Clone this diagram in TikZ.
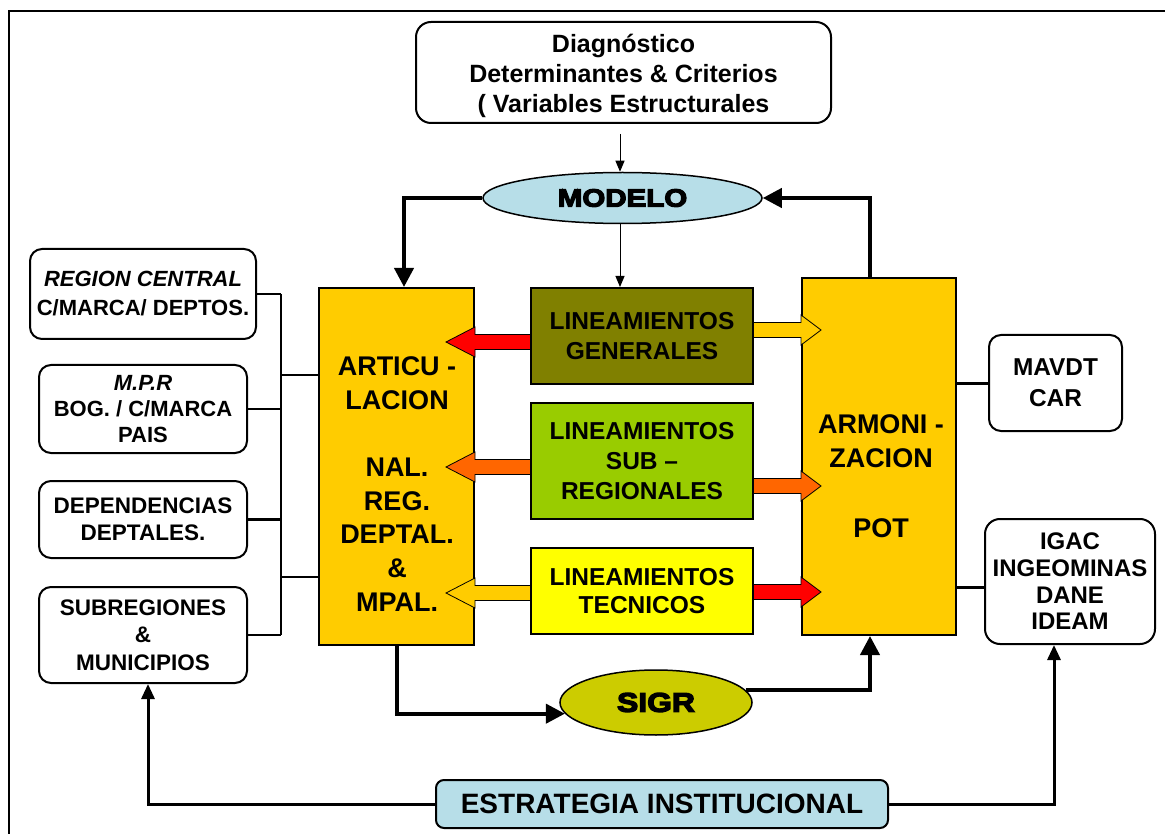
\documentclass[tikz,border=0pt]{standalone}
\usepackage{fontspec}
\setmainfont{Liberation Sans}
\newfontfamily\heavyfont[FakeBold=5,FakeStretch=1.18]{Liberation Sans}
\usetikzlibrary{shapes.geometric,arrows.meta,calc}
\definecolor{gold}{HTML}{FFCC00}
\definecolor{olivebox}{HTML}{808000}
\definecolor{greenbox}{HTML}{99CC00}
\definecolor{yellowbox}{HTML}{FFFF00}
\definecolor{lightblue}{HTML}{B7DEE8}
\definecolor{sigrfill}{HTML}{CCCC00}
\definecolor{orangearrow}{HTML}{FF6600}
\definecolor{redarrow}{HTML}{FF0000}
\newcommand{\fs}[2]{\fontsize{#1}{#2}\selectfont\bfseries}
\newcommand{\blkarrow}[5]{%
 \pgfmathsetmacro\ya{#4-7.5}\pgfmathsetmacro\yb{#4+7.5}%
 \pgfmathsetmacro\yc{#4-15}\pgfmathsetmacro\yd{#4+15}%
 \coordinate (bkS) at (#2);
 \coordinate (bkT) at (#3);
 \filldraw[fill=#1,draw=black,line width=0.8pt]
 (bkS |- 0,\ya) -- (bkT |- 0,\ya) -- (bkT |- 0,\yc) -- ($(bkT |- 0,#4)+(#5,0)$)
 -- (bkT |- 0,\yd) -- (bkT |- 0,\yb) -- (bkS |- 0,\yb) -- cycle;}
\tikzset{
 rbox/.style={draw,line width=2pt,rounded corners=12pt,fill=white,inner sep=0pt,align=center},
 sqbox/.style={draw,line width=2pt,inner sep=0pt,align=center},
 oval/.style={ellipse,draw,line width=1.5pt,inner sep=0pt},
 thinarrow/.style={line width=1pt,-{Triangle[length=11pt,width=9pt]}},
 thickarrow/.style={line width=4pt,-{Triangle[length=19pt,width=19pt]}},
 midarrow/.style={line width=3pt,-{Triangle[length=15pt,width=13pt]}},
 bus/.style={line width=2.5pt},
 conn/.style={line width=3pt}
}
\begin{document}
\begin{tikzpicture}[x=1pt,y=-1pt]
\useasboundingbox (0,0) rectangle (1165,834);
\fill[white] (0,0) rectangle (1165,834);
% frame
\draw[line width=2pt] (9,834) -- (9,11) -- (1165,11);

% top
\node[rbox,rounded corners=15pt,minimum width=415,minimum height=101] (diag) at (623.5,72.5) {};
\node[font=\fs{25}{30},align=center,inner sep=0pt] (diagT) at (623.5,75.5)
 {Diagnóstico\\Determinantes \& Criterios\\( Variables Estructurales};
\node[oval,fill=lightblue,minimum width=279,minimum height=51] (modelo) at (622.5,198)
 {\heavyfont\fontsize{25}{28}\selectfont\bfseries MODELO};

% main columns
\node[sqbox,fill=gold,minimum width=155,minimum height=357] (artic) at (396.5,466.5) {};
\node[font=\fs{27}{33.7},align=center] (articT) at (397,484)
 {ARTICU -\\LACION\\[33.7pt]NAL.\\REG.\\DEPTAL.\\\&\\MPAL.};
\node[sqbox,fill=gold,minimum width=154,minimum height=357] (armon) at (879,456.5) {};
\node[font=\fs{27}{34.7},align=center] (armonT) at (881,476)
 {ARMONI -\\ZACION\\[34.7pt]POT};

% block arrows
\blkarrow{redarrow}{531,0}{artic.east}{342}{-29}
\blkarrow{orangearrow}{531,0}{artic.east}{467}{-29}
\blkarrow{gold}{531,0}{artic.east}{593}{-29}
\blkarrow{gold}{753,0}{armon.west}{330}{20}
\blkarrow{orangearrow}{753,0}{armon.west}{486}{20}
\blkarrow{redarrow}{753,0}{armon.west}{592}{20}

\node[sqbox,fill=olivebox,minimum width=222,minimum height=96,font=\fs{24.5}{30}] (gen) at (642,336)
 {LINEAMIENTOS\\GENERALES};
\node[sqbox,fill=greenbox,minimum width=222,minimum height=116,font=\fs{24.5}{30}] (sub) at (642,461)
 {LINEAMIENTOS\\SUB –\\REGIONALES};
\node[sqbox,fill=yellowbox,minimum width=222,minimum height=86,font=\fs{24.5}{28}] (tec) at (642,591)
 {LINEAMIENTOS\\TECNICOS};

% left boxes
\node[rbox,minimum width=226,minimum height=90,font=\fs{22}{29}] (b1) at (143,294)
 {\itshape REGION CENTRAL\\C/MARCA/ DEPTOS.};
\node[rbox,minimum width=208,minimum height=88,font=\fs{22}{26}] (b2) at (143,409)
 {\itshape M.P.R\\BOG. / C/MARCA\\PAIS};
\node[rbox,minimum width=208,minimum height=77,font=\fs{22.5}{27}] (b3) at (143,519.5)
 {DEPENDENCIAS\\DEPTALES.};
\node[rbox,minimum width=208,minimum height=96,font=\fs{22.5}{27.5}] (b4) at (143,635)
 {SUBREGIONES\\\&\\MUNICIPIOS};

% right boxes
\node[rbox,minimum width=133,minimum height=96,font=\fs{24.4}{31}] (mavdt) at (1055.5,383)
 {MAVDT\\CAR};
\node[rbox,rounded corners=15pt,minimum width=170,minimum height=125,font=\fs{24}{26.7}] (igac) at (1070,581.5)
 {IGAC\\INGEOMINAS\\DANE\\IDEAM};

% bottom
\node[oval,fill=sigrfill,minimum width=192,minimum height=65] (sigr) at (656,702.5)
 {\heavyfont\fontsize{27}{30}\selectfont\bfseries SIGR};
\node[draw,line width=2pt,rounded corners=8pt,fill=lightblue,minimum width=452,minimum height=48,inner sep=0pt,font=\fs{28}{30}] (estr) at (662,804)
 {ESTRATEGIA INSTITUCIONAL};

% connectors top
\draw[thinarrow] ([yshift=-10pt]diag.south -| 620,0) -- (modelo.north -| 620,0);
\draw[thinarrow] (modelo.south -| 620,0) -- (gen.north -| 620,0);
\draw[thickarrow] (modelo.west) -| ([xshift=7.5pt]artic.north);
\draw[thickarrow] ([xshift=-9pt]armon.north) |- (modelo.east);

% left bus
\coordinate (busTop) at (281,294);
\coordinate (busBot) at (281,635);
\draw[bus] (busTop) -- (busBot);
\draw[bus] (b1.east) -- (b1.east -| busTop);
\draw[bus] (b2.east) -- (b2.east -| busTop);
\draw[bus] (b3.east) -- (b3.east -| busTop);
\draw[bus] (b4.east) -- (b4.east -| busTop);
\draw[bus] (busTop |- 0,375) -- (artic.west |- 0,375);
\draw[bus] (busTop |- 0,577) -- (artic.west |- 0,577);

% right connectors
\draw[conn] (armon.east |- mavdt.west) -- (mavdt.west);
\draw[conn] (armon.east |- 0,587) -- (igac.west |- 0,587);

% SIGR loop
\draw[thickarrow] (artic.south) |- (sigr.187);
\draw[thickarrow] (sigr.8) -| ([xshift=-9pt]armon.south);

% strategy
\draw[midarrow] (estr.west) -| ([xshift=5pt]b4.south);
\draw[midarrow] (estr.east) -| ([xshift=-16pt]igac.south);
\end{tikzpicture}
\end{document}
